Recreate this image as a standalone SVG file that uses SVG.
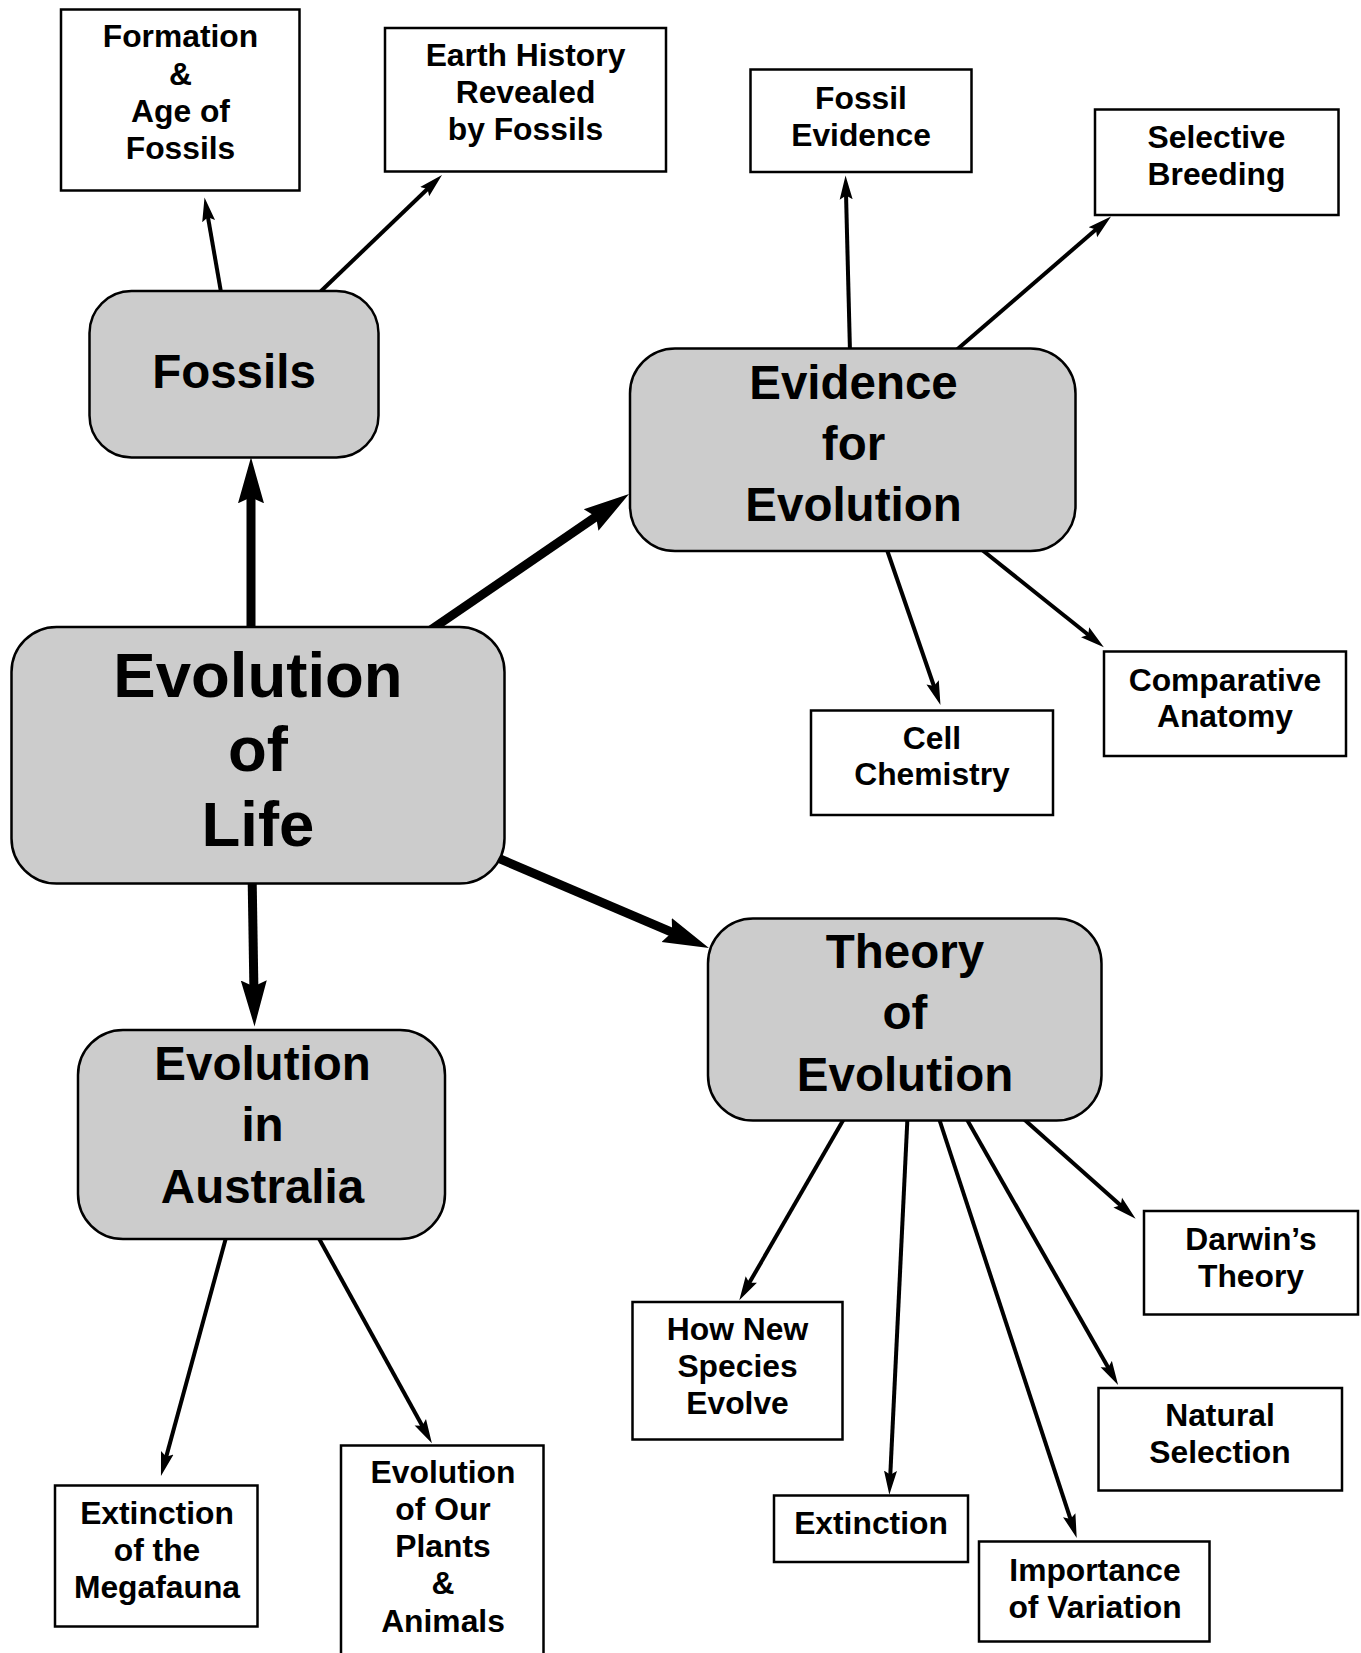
<svg xmlns="http://www.w3.org/2000/svg" width="1361" height="1653" viewBox="0 0 1361 1653">
<style>
text{font-family:"Liberation Sans",Arial,sans-serif;font-weight:bold;fill:#000;text-anchor:middle}
.main rect{fill:#cccccc;stroke:#000;stroke-width:2.5}
.leaf rect{fill:#fff;stroke:#000;stroke-width:2.5}
.t1{font-size:63.5px}
.t2{font-size:47.5px}
.t3{font-size:31.8px}
.thick{stroke:#000;stroke-width:9;fill:none;marker-end:url(#bigArrow)}
.thin{stroke:#000;stroke-width:4;fill:none;marker-end:url(#smallArrow)}
</style>
<defs>
<marker id="bigArrow" markerUnits="userSpaceOnUse" markerWidth="50" markerHeight="30" viewBox="0 -15 50 30" refX="8" refY="0" orient="auto">
<path d="M0,-13 L46,0 L0,13 L6,0 Z" fill="#000"/>
</marker>
<marker id="smallArrow" markerUnits="userSpaceOnUse" markerWidth="26" markerHeight="16" viewBox="0 -8 26 16" refX="6" refY="0" orient="auto">
<path d="M0,-6.5 L24,0 L0,6.5 L4,0 Z" fill="#000"/>
</marker>
</defs>
<rect width="1361" height="1653" fill="#fff"/>
<g id="connectors">
<line class="thick" x1="251" y1="640" x2="251" y2="495.3"/>
<line class="thick" x1="252" y1="870" x2="253.9" y2="988.4"/>
<line class="thick" x1="430" y1="630.4" x2="597.7" y2="515.5"/>
<line class="thick" x1="490" y1="854.7" x2="674" y2="933.1"/>
<line class="thin" x1="221.5" y1="295" x2="207.6" y2="215.2"/>
<line class="thin" x1="318" y1="294" x2="429" y2="187.5"/>
<line class="thin" x1="850" y1="352" x2="846" y2="193.5"/>
<line class="thin" x1="955" y1="351.2" x2="1097.4" y2="228.3"/>
<line class="thin" x1="886" y1="547" x2="934.6" y2="688"/>
<line class="thin" x1="979" y1="547.5" x2="1089.8" y2="636"/>
<line class="thin" x1="845" y1="1117" x2="748.3" y2="1284.6"/>
<line class="thin" x1="907.5" y1="1117" x2="890.2" y2="1476.8"/>
<line class="thin" x1="938.5" y1="1117" x2="1071.1" y2="1520.9"/>
<line class="thin" x1="965.5" y1="1117" x2="1109.2" y2="1369.3"/>
<line class="thin" x1="1022" y1="1117.5" x2="1122.2" y2="1206.7"/>
<line class="thin" x1="227" y1="1234" x2="165.7" y2="1458.6"/>
<line class="thin" x1="316.5" y1="1234" x2="423.2" y2="1427.5"/>
</g>
<g id="node-evolution-of-life" class="main">
<rect x="11.5" y="627" width="493" height="256.5" rx="45"/>
<text class="t1" x="258" y="697">Evolution</text>
<text class="t1" x="258" y="771">of</text>
<text class="t1" x="258" y="846">Life</text>
</g>
<g id="node-fossils" class="main">
<rect x="89.5" y="291" width="289" height="166.5" rx="42"/>
<text class="t2" x="234" y="388">Fossils</text>
</g>
<g id="node-evidence" class="main">
<rect x="630" y="348.5" width="445.5" height="202.5" rx="45"/>
<text class="t2" x="853.5" y="398.5">Evidence</text>
<text class="t2" x="853.5" y="459.5">for</text>
<text class="t2" x="853.5" y="521">Evolution</text>
</g>
<g id="node-theory" class="main">
<rect x="708" y="918.5" width="393.5" height="202" rx="45"/>
<text class="t2" x="905" y="968">Theory</text>
<text class="t2" x="905" y="1028.5">of</text>
<text class="t2" x="905" y="1090.5">Evolution</text>
</g>
<g id="node-australia" class="main">
<rect x="78" y="1030" width="367" height="209" rx="45"/>
<text class="t2" x="262.5" y="1079.5">Evolution</text>
<text class="t2" x="262.5" y="1140.5">in</text>
<text class="t2" x="262.5" y="1203">Australia</text>
</g>
<g id="node-formation" class="leaf">
<rect x="61" y="9.5" width="238.5" height="181"/>
<text class="t3" x="180.5" y="47">Formation</text>
<text class="t3" x="180.5" y="84.5">&amp;</text>
<text class="t3" x="180.5" y="122">Age of</text>
<text class="t3" x="180.5" y="159">Fossils</text>
</g>
<g id="node-earth-history" class="leaf">
<rect x="385" y="28" width="281" height="143.5"/>
<text class="t3" x="525.5" y="66">Earth History</text>
<text class="t3" x="525.5" y="103">Revealed</text>
<text class="t3" x="525.5" y="140">by Fossils</text>
</g>
<g id="node-fossil-evidence" class="leaf">
<rect x="750.5" y="69.5" width="221" height="102.5"/>
<text class="t3" x="861" y="108.5">Fossil</text>
<text class="t3" x="861" y="145.5">Evidence</text>
</g>
<g id="node-selective-breeding" class="leaf">
<rect x="1095" y="109.5" width="243.5" height="105.5"/>
<text class="t3" x="1216.5" y="148">Selective</text>
<text class="t3" x="1216.5" y="184.5">Breeding</text>
</g>
<g id="node-cell-chemistry" class="leaf">
<rect x="811" y="710.5" width="242" height="104.5"/>
<text class="t3" x="932" y="748.5">Cell</text>
<text class="t3" x="932" y="785">Chemistry</text>
</g>
<g id="node-comparative-anatomy" class="leaf">
<rect x="1104" y="651.5" width="242" height="104.5"/>
<text class="t3" x="1225" y="690.5">Comparative</text>
<text class="t3" x="1225" y="727">Anatomy</text>
</g>
<g id="node-how-new-species" class="leaf">
<rect x="632.5" y="1302" width="210" height="137.5"/>
<text class="t3" x="737.5" y="1340">How New</text>
<text class="t3" x="737.5" y="1377">Species</text>
<text class="t3" x="737.5" y="1414">Evolve</text>
</g>
<g id="node-extinction" class="leaf">
<rect x="774" y="1495.5" width="194" height="66.5"/>
<text class="t3" x="871" y="1534">Extinction</text>
</g>
<g id="node-importance-variation" class="leaf">
<rect x="979" y="1541.5" width="230.5" height="100"/>
<text class="t3" x="1095" y="1581">Importance</text>
<text class="t3" x="1095" y="1617.5">of Variation</text>
</g>
<g id="node-natural-selection" class="leaf">
<rect x="1098.5" y="1388" width="243.5" height="102.5"/>
<text class="t3" x="1220" y="1425.5">Natural</text>
<text class="t3" x="1220" y="1463">Selection</text>
</g>
<g id="node-darwins-theory" class="leaf">
<rect x="1144" y="1211" width="214" height="103.5"/>
<text class="t3" x="1251" y="1250">Darwin’s</text>
<text class="t3" x="1251" y="1287">Theory</text>
</g>
<g id="node-extinction-megafauna" class="leaf">
<rect x="55" y="1485.5" width="202.5" height="141"/>
<text class="t3" x="157" y="1524">Extinction</text>
<text class="t3" x="157" y="1560.5">of the</text>
<text class="t3" x="157" y="1597.5">Megafauna</text>
</g>
<g id="node-evolution-plants-animals" class="leaf">
<rect x="341" y="1445.5" width="202.5" height="230"/>
<text class="t3" x="443" y="1482.5">Evolution</text>
<text class="t3" x="443" y="1519.5">of Our</text>
<text class="t3" x="443" y="1557">Plants</text>
<text class="t3" x="443" y="1594">&amp;</text>
<text class="t3" x="443" y="1631.5">Animals</text>
</g>
</svg>
